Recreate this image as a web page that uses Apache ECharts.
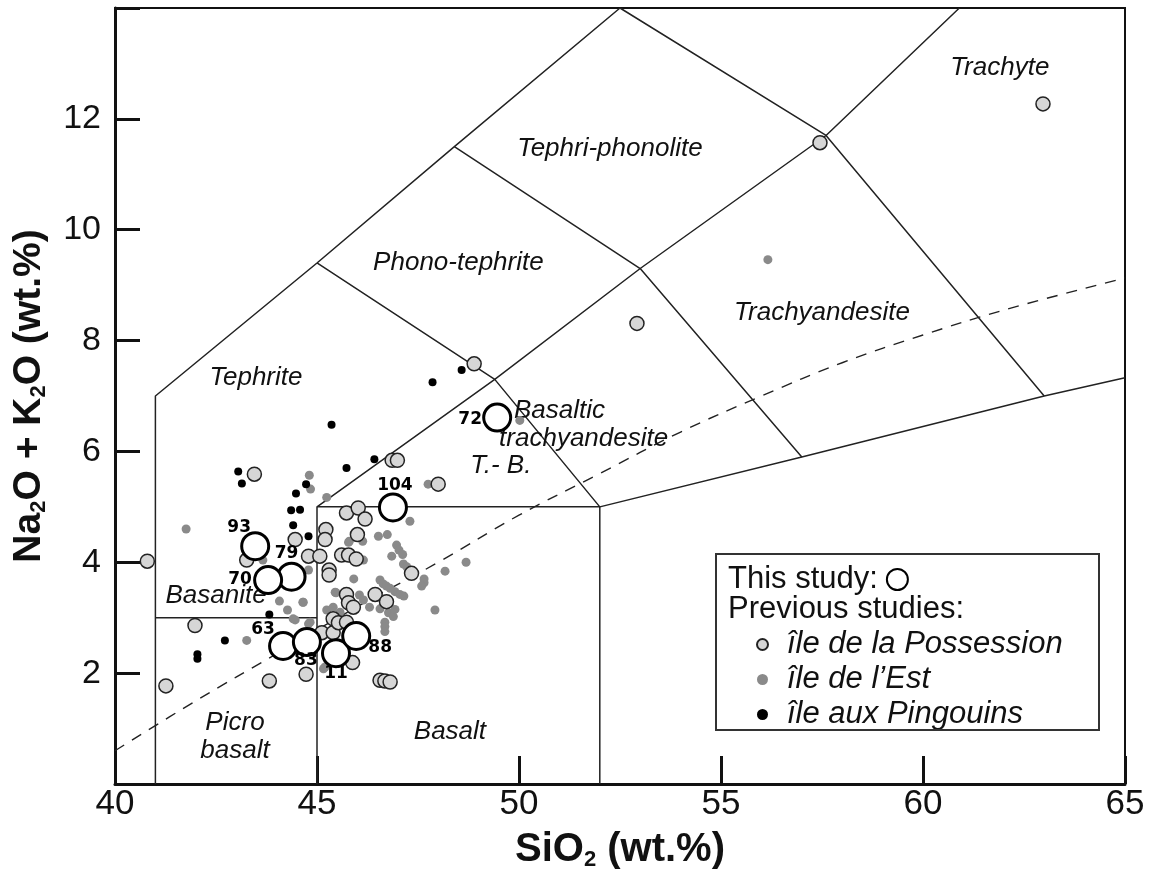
<!DOCTYPE html>
<html>
<head>
<meta charset="utf-8">
<script src="https://cdn.jsdelivr.net/npm/echarts@6/dist/echarts.min.js"></script>
<style>
html,body{margin:0;padding:0;background:#fff;}
#chart{width:1152px;height:875px;}
</style>
</head>
<body>
<div id="chart"></div>
<script>
// ---------- Data ----------
const xTicks = [40, 45, 50, 55, 60, 65];
const yTicks = [2, 4, 6, 8, 10, 12];

// TAS field boundaries (SiO2, Na2O+K2O)
const bndOuter   = [[41,0],[41,7],[45,9.4],[48.4,11.5],[52.5,14]];
const bndBasanite= [[41,3],[45,3]];
const bndMain    = [[45,0],[45,5],[49.4,7.3],[53,9.3],[57.6,11.7],[60.9,14]];
const bndBasalt  = [[45,5],[52,5],[52,0]];
const bndLower   = [[52,5],[57,5.9],[63,7],[65,7.33]];
const bndTB      = [[45,9.4],[49.4,7.3],[52,5]];
const bndBTA     = [[48.4,11.5],[53,9.3],[57,5.9]];
const bndTA      = [[52.5,14],[57.6,11.7],[63,7]];
const boundaries = [bndOuter, bndBasanite, bndMain, bndBasalt, bndLower, bndTB, bndBTA, bndTA];

// Alkaline / sub-alkaline divide (dashed)
const alkLine = [[40,0.6],[42,1.5],[44,2.35],[46,3.2],[48,4.0],[50,4.85],[52,5.6],[54,6.35],[56,7.0],[58,7.6],[60,8.1],[62,8.55],[65,9.13]];

// Field names and their anchor positions
const fieldNames = ['Trachyte','Tephri-phonolite','Phono-tephrite','Trachyandesite','Tephrite','Basaltic','trachyandesite','T.- B.','Basanite','Picro\nbasalt','Basalt'];
const fieldPos   = [[61.9,12.92],[52.25,11.46],[48.5,9.41],[57.5,8.5],[43.49,7.32],[51.0,6.74],[51.6,6.23],[49.55,5.75],[42.5,3.39],[42.97,0.85],[48.29,0.95]];

// This study
const studyIds = ['93','79','70','63','83','11','88','104','72'];
const studySi  = [43.47,44.37,43.79,44.16,44.75,45.47,45.97,46.88,49.46];
const studyAlk = [4.29,3.74,3.68,2.49,2.56,2.36,2.67,4.99,6.61];
const studyLabelOffset = [[-16,-19],[-5,-23],[-28,0],[-20,-16],[-1,18],[0,20],[24,12],[2,-22],[-27,2]];

// Previous studies: île de la Possession
const possession = [[40.8,4.02],[43.45,5.59],[43.26,4.04],[44.46,4.41],[44.79,4.11],[45.07,4.11],[45.22,4.59],[45.20,4.41],
  [45.61,4.13],[45.78,4.13],[45.97,4.06],[45.30,3.86],[45.30,3.77],[41.98,2.86],[41.26,1.77],[43.82,1.86],[44.73,1.98],
  [45.40,2.98],[45.12,2.73],[45.40,2.73],[45.53,2.91],[45.73,2.92],[45.88,2.19],[46.56,1.87],[46.68,1.86],[46.81,1.84],
  [45.73,3.42],[45.78,3.27],[45.90,3.19],[46.44,3.42],[46.72,3.29],[47.34,3.80],[45.73,4.89],[46.02,4.98],[46.19,4.78],
  [46.00,4.50],[46.86,5.84],[46.99,5.84],[48.00,5.41],[48.89,7.58],[52.92,8.31],[57.45,11.57],[62.97,12.27]];

// Previous studies: île de l'Est
const est = [[41.76,4.6],[44.81,5.57],[44.84,5.32],[45.24,5.17],[43.66,4.04],[44.79,3.86],[45.78,4.36],[44.07,3.30],
  [44.27,3.14],[44.65,3.28],[44.46,2.96],[44.79,2.89],[43.26,2.59],[45.45,3.46],[45.2,2.11],[47.3,4.74],[46.52,4.47],
  [46.74,4.5],[45.8,4.38],[46.13,4.38],[46.97,4.31],[47.03,4.22],[47.12,4.14],[46.85,4.11],[46.15,4.04],[47.14,3.97],
  [47.22,3.92],[47.75,5.41],[48.17,3.84],[48.69,4.0],[47.65,3.70],[45.91,3.70],[46.56,3.68],[46.64,3.61],[46.72,3.57],
  [46.81,3.53],[46.93,3.47],[47.05,3.42],[47.15,3.39],[47.65,3.63],[47.59,3.57],[47.92,3.14],[45.47,3.45],[46.05,3.41],
  [46.15,3.32],[46.30,3.19],[45.24,3.14],[45.40,3.19],[45.57,3.1],[46.56,3.16],[46.77,3.09],[46.89,3.02],[46.93,3.15],
  [46.68,2.92],[46.68,2.84],[46.68,2.75],[45.16,2.08],[44.41,2.98],[44.83,2.92],[44.66,3.28],[50.02,6.56],[56.16,9.46]];

// Previous studies: île aux Pingouins
const pingouins = [[45.36,6.48],[45.73,5.70],[43.05,5.64],[43.14,5.42],[44.73,5.41],[44.48,5.24],[44.36,4.94],[44.58,4.95],
  [44.41,4.67],[44.79,4.47],[47.86,7.25],[48.58,7.47],[46.42,5.86],[43.82,3.06],[42.72,2.59],[42.04,2.34],[42.04,2.26]];

// ---------- Chart ----------
const FONT = '"Liberation Sans", Arial, sans-serif';
const chart = echarts.init(document.getElementById('chart'));

const series = [];
boundaries.forEach(function (b) {
  series.push({ type: 'line', data: b, symbol: 'none', silent: true, z: 1,
    lineStyle: { color: '#222', width: 1.5 }, clip: true });
});
series.push({ type: 'line', data: alkLine, smooth: 0.4, symbol: 'none', silent: true, z: 1,
  lineStyle: { color: '#222', width: 1.4, type: [11, 9] } });
series.push({ type: 'scatter', silent: true, z: 2, symbolSize: 0, itemStyle: { opacity: 1 },
  data: fieldNames.map(function (n, i) { return { name: n, value: fieldPos[i] }; }),
  label: { show: true, position: 'inside', formatter: '{b}', fontFamily: FONT, fontStyle: 'italic',
    fontSize: 26, color: '#111', lineHeight: 28, align: 'center' } });
series.push({ name: "île de l’Est", type: 'scatter', data: est, symbolSize: 9, z: 3,
  itemStyle: { color: '#8a8a8a', opacity: 1 } });
series.push({ name: 'île aux Pingouins', type: 'scatter', data: pingouins, symbolSize: 8, z: 4,
  itemStyle: { color: '#000', opacity: 1 } });
series.push({ name: 'île de la Possession', type: 'scatter', data: possession, symbolSize: 14, z: 5,
  itemStyle: { color: '#d6d6d6', borderColor: '#222', borderWidth: 1.5, opacity: 1 } });
series.push({ name: 'This study:', type: 'scatter', symbolSize: 27, z: 6,
  itemStyle: { color: '#fff', borderColor: '#000', borderWidth: 3, opacity: 1 },
  data: studyIds.map(function (id, i) {
    return { name: id, value: [studySi[i], studyAlk[i]],
      label: { show: true, position: 'inside', offset: studyLabelOffset[i], formatter: '{b}',
        fontFamily: '"DejaVu Sans", sans-serif', fontWeight: 'bold', fontSize: 17, color: '#000' } };
  }) });

const option = {
  animation: false,
  backgroundColor: '#fff',
  grid: { left: 115, right: 27, top: 8, bottom: 91, show: true, borderColor: '#111', borderWidth: 2,
    containLabel: false, outerBoundsMode: 'none' },
  xAxis: {
    type: 'value', min: 40, max: 65, interval: 5,
    axisLine: { lineStyle: { color: '#111', width: 3 } },
    axisTick: { inside: true, length: 28, lineStyle: { color: '#111', width: 3 } },
    splitLine: { show: false },
    axisLabel: { fontFamily: FONT, fontSize: 35, color: '#111', margin: 3,
      formatter: function (v) { return xTicks.indexOf(v) >= 0 ? String(v) : ''; } },
    name: 'SiO{sub|2} (wt.%)', nameLocation: 'middle', nameGap: 45,
    nameTextStyle: { fontFamily: FONT, fontWeight: 'bold', fontSize: 40, color: '#111',
      rich: { sub: { fontFamily: FONT, fontWeight: 'bold', fontSize: 22, color: '#111', padding: [20, 0, 0, 0] } } }
  },
  yAxis: {
    type: 'value', min: 0, max: 14, interval: 2,
    axisLine: { lineStyle: { color: '#111', width: 3 } },
    axisTick: { inside: true, length: 25, lineStyle: { color: '#111', width: 3 } },
    splitLine: { show: false },
    axisLabel: { fontFamily: FONT, fontSize: 34, color: '#111', margin: 14,
      formatter: function (v) { return yTicks.indexOf(v) >= 0 ? String(v) : ''; } },
    name: 'Na{sub|2}O + K{sub|2}O (wt.%)', nameLocation: 'middle', nameGap: 65, nameRotate: 90,
    nameTextStyle: { fontFamily: FONT, fontWeight: 'bold', fontSize: 39, color: '#111',
      rich: { sub: { fontFamily: FONT, fontWeight: 'bold', fontSize: 22, color: '#111', padding: [19, 0, 0, 0] } } }
  },
  legend: [
    { data: ['This study:'], left: 723, top: 559, align: 'right', icon: 'circle', itemWidth: 21, itemHeight: 21,
      selectedMode: false, textStyle: { fontFamily: FONT, fontSize: 31, color: '#111', padding: [0, 4, 0, 0] } },
    { data: ['île de la Possession', "île de l’Est", 'île aux Pingouins'], orient: 'vertical', left: 751, top: 623,
      icon: 'circle', itemWidth: 11, itemHeight: 11, itemGap: 2, selectedMode: false,
      textStyle: { fontFamily: FONT, fontStyle: 'italic', fontSize: 31, lineHeight: 33, color: '#111', padding: [0, 0, 0, 14] } }
  ],
  graphic: [
    { type: 'rect', left: 715, top: 553, shape: { width: 383, height: 176 }, z: 10,
      style: { fill: 'rgba(255,255,255,0)', stroke: '#333', lineWidth: 2 } },
    { type: 'text', left: 728, top: 594, z: 11,
      style: { text: 'Previous studies:', font: '31px "Liberation Sans", Arial, sans-serif', fill: '#111' } }
  ],
  series: series
};
chart.setOption(option);
</script>
</body>
</html>
